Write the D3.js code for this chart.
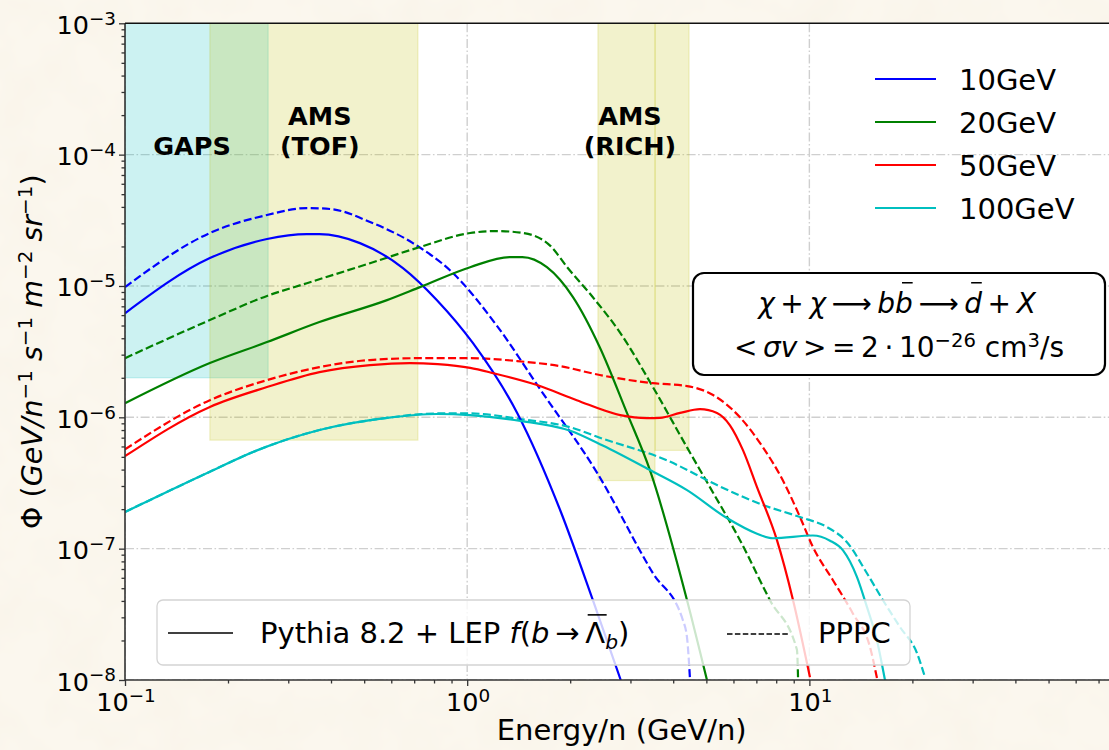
<!DOCTYPE html>
<html>
<head>
<meta charset="utf-8">
<script src="https://cdn.jsdelivr.net/npm/d3@7"></script>
<style>
  html, body { margin: 0; padding: 0; background: #fbf7ee; }
  svg { display: block; }
  text { font-family: "DejaVu Sans", sans-serif; fill: #000; }
</style>
</head>
<body>
<svg id="chart" width="1109" height="750"></svg>
<script>
// ---------------------------------------------------------------
// Antideuteron flux from dark-matter annihilation (chi chi -> b bbar)
// Energies in GeV/n, fluxes in GeV/n^-1 s^-1 m^-2 sr^-1
// ---------------------------------------------------------------
const energyDomain = [0.1, 80];
const fluxDomain = [1e-8, 1e-3];
const energyMajorTicks = [0.1, 1, 10];
const energyTickExponents = ["−1", "0", "1"];
const fluxMajorTicks = [1e-8, 1e-7, 1e-6, 1e-5, 1e-4, 1e-3];
const fluxTickExponents = ["−8", "−7", "−6", "−5", "−4", "−3"];

const massLabels = ["10GeV", "20GeV", "50GeV", "100GeV"];

// Pythia 8.2 + LEP f(b -> Lambda_b) spectra
const pythia10 = [[0.1, 6.2e-6], [0.177, 1.63e-5], [0.26, 2.28e-5], [0.34, 2.48e-5], [0.37, 2.48e-5],
  [0.486, 2.12e-5], [0.649, 1.37e-5], [0.816, 7.8e-6], [1.04, 3.67e-6], [1.4, 1.08e-6],
  [1.87, 1.96e-7], [2.33, 4.05e-8], [2.81, 1.0e-8]];
const pythia20 = [[0.1, 1.28e-6], [0.177, 2.59e-6], [0.26, 3.74e-6], [0.37, 5.31e-6], [0.583, 7.8e-6],
  [0.728, 9.8e-6], [1.02, 1.39e-5], [1.33, 1.66e-5], [1.45, 1.66e-5], [1.71, 1.39e-5],
  [2.04, 8.2e-6], [2.44, 3.42e-6], [2.93, 1.08e-6], [3.42, 3.96e-7], [4.39, 4.05e-8], [5.02, 1.0e-8]];
const pythia50 = [[0.1, 5.06e-7], [0.177, 1.2e-6], [0.26, 1.7e-6], [0.37, 2.21e-6], [0.52, 2.5e-6],
  [0.68, 2.59e-6], [0.82, 2.54e-6], [1.02, 2.38e-6], [1.19, 2.17e-6], [1.6, 1.76e-6],
  [2.09, 1.35e-6], [2.8, 1.04e-6], [3.35, 9.86e-7], [3.66, 9.9e-7], [4.19, 1.08e-6],
  [4.79, 1.155e-6], [5.37, 1.08e-6], [5.86, 8.7e-7], [6.4, 5.6e-7], [7.03, 2.94e-7],
  [8.04, 1.16e-7], [8.96, 4.05e-8], [10.04, 1.05e-8]];
const pythia100 = [[0.1, 1.9e-7], [0.177, 3.85e-7], [0.243, 5.6e-7], [0.37, 8.0e-7], [0.583, 9.9e-7],
  [0.816, 1.06e-6], [1.02, 1.04e-6], [1.43, 9.4e-7], [2.0, 7.9e-7], [2.49, 6.1e-7],
  [3.4, 4.0e-7], [4.39, 2.79e-7], [5.74, 1.71e-7], [7.03, 1.3e-7], [7.83, 1.2e-7],
  [10.24, 1.26e-7], [11.49, 1.15e-7], [12.54, 9.7e-8], [13.77, 6.1e-8], [14.73, 3.6e-8],
  [15.76, 2.0e-8], [16.63, 1.0e-8]];

// PPPC spectra
const pppc10 = [[0.1, 9.8e-6], [0.177, 2.53e-5], [0.26, 3.47e-5], [0.34, 3.92e-5], [0.4, 3.85e-5],
  [0.52, 3.07e-5], [0.694, 2.12e-5], [0.91, 1.25e-5], [1.22, 5.0e-6], [1.63, 1.65e-6],
  [2.4, 3.76e-7], [3.49, 6.5e-8], [4.27, 2.85e-8], [4.39, 2.1e-8], [4.48, 1.0e-8]];
const pppc20 = [[0.1, 2.82e-6], [0.177, 5.5e-6], [0.26, 8.4e-6], [0.34, 1.05e-5], [0.52, 1.49e-5],
  [0.728, 1.98e-5], [1.02, 2.53e-5], [1.22, 2.62e-5], [1.46, 2.53e-5], [1.75, 2.02e-5],
  [1.96, 1.39e-5], [2.33, 8.2e-6], [2.8, 4.4e-6], [3.49, 1.7e-6], [4.39, 5.9e-7],
  [5.12, 2.94e-7], [6.27, 1.16e-7], [7.67, 4.05e-8], [9.2, 1.69e-8], [9.27, 1.0e-8]];
const pppc50 = [[0.1, 5.7e-7], [0.177, 1.35e-6], [0.26, 1.92e-6], [0.37, 2.41e-6], [0.52, 2.73e-6],
  [0.73, 2.82e-6], [1.02, 2.82e-6], [1.4, 2.68e-6], [1.87, 2.45e-6], [2.44, 2.1e-6],
  [3.49, 1.82e-6], [4.39, 1.73e-6], [5.23, 1.48e-6], [6.27, 1.0e-6], [7.32, 5.9e-7],
  [8.37, 3.3e-7], [9.39, 1.74e-7], [10.24, 1.03e-7], [11.72, 5.75e-8], [13.41, 3.2e-8],
  [15.04, 1.78e-8], [15.8, 1.0e-8]];
const pppc100 = [[0.1, 1.9e-7], [0.177, 3.85e-7], [0.243, 5.6e-7], [0.37, 8.0e-7], [0.583, 9.9e-7],
  [0.816, 1.07e-6], [1.02, 1.07e-6], [1.43, 9.7e-7], [2.0, 8.4e-7], [2.44, 7.0e-7],
  [3.84, 4.7e-7], [5.37, 3.05e-7], [7.32, 2.15e-7], [9.39, 1.74e-7], [11.26, 1.46e-7],
  [12.88, 1.12e-7], [14.73, 6.5e-8], [16.41, 4.05e-8], [18.4, 2.53e-8], [20.63, 1.6e-8],
  [21.77, 1.05e-8]];

// Detector sensitivity windows: energy span and lowest reachable flux
const bandEnergyLow = [0.1, 0.177, 2.41, 3.54];
const bandEnergyHigh = [0.262, 0.718, 3.54, 4.45];
const bandFluxFloor = [2.0e-6, 6.7e-7, 3.3e-7, 5.6e-7];
const bandLabels = [["GAPS"], ["AMS", "(TOF)"], ["AMS", "(RICH)"]];

// ---------------------------------------------------------------
// Styles and layout
// ---------------------------------------------------------------
const seriesColors = ["#0000ff", "#008000", "#ff0000", "#00bfbf"];
const bandFills = ["#00bfbf", "#bfbf00", "#bfbf00", "#bfbf00"];
const bandLabelAnchors = [0.157, 0.371, 2.99];

const W = 1109, H = 750;
const plot = { left: 125, top: 23.3, right: 1118.4, bottom: 680 };

const svg = d3.select("#chart");
const defs = svg.append("defs");

// paper-like backdrop
const grain = defs.append("filter").attr("id", "grain")
  .attr("x", 0).attr("y", 0).attr("width", "100%").attr("height", "100%");
grain.append("feTurbulence").attr("type", "fractalNoise")
  .attr("baseFrequency", 0.02).attr("numOctaves", 3).attr("seed", 7);
grain.append("feColorMatrix").attr("type", "matrix")
  .attr("values", "0 0 0 0 0.88  0 0 0 0 0.82  0 0 0 0 0.70  0.4 0 0 0 -0.15");
svg.append("rect").attr("width", W).attr("height", H).attr("fill", "#fbf7ee");
svg.append("rect").attr("width", W).attr("height", H).attr("filter", "url(#grain)");

const x = d3.scaleLog().domain(energyDomain).range([plot.left, plot.right]);
const y = d3.scaleLog().domain(fluxDomain).range([plot.bottom, plot.top]);

defs.append("clipPath").attr("id", "plot-clip").append("rect")
  .attr("x", plot.left).attr("y", plot.top)
  .attr("width", plot.right - plot.left).attr("height", plot.bottom - plot.top);

// plot face
svg.append("rect").attr("x", plot.left).attr("y", plot.top)
  .attr("width", plot.right - plot.left).attr("height", plot.bottom - plot.top)
  .attr("fill", "#fff");

const inner = svg.append("g").attr("clip-path", "url(#plot-clip)");

// grid (dash-dot at decades)
const gridStyle = g => g.attr("stroke", "#cfcfcf").attr("stroke-width", 1.4)
  .attr("stroke-dasharray", "9,2.5,1.6,2.5").attr("fill", "none");
inner.append("g").call(gridStyle).selectAll("line").data(energyMajorTicks).join("line")
  .attr("x1", d => x(d)).attr("x2", d => x(d)).attr("y1", plot.top).attr("y2", plot.bottom);
inner.append("g").call(gridStyle).selectAll("line").data(fluxMajorTicks).join("line")
  .attr("y1", d => y(d)).attr("y2", d => y(d)).attr("x1", plot.left).attr("x2", plot.right);

// detector windows
inner.append("g").selectAll("rect").data(bandEnergyLow).join("rect")
  .attr("x", d => x(d))
  .attr("width", (d, i) => x(bandEnergyHigh[i]) - x(d))
  .attr("y", y(fluxDomain[1]))
  .attr("height", (d, i) => y(bandFluxFloor[i]) - y(fluxDomain[1]))
  .attr("fill", (d, i) => bandFills[i]).attr("fill-opacity", 0.2)
  .attr("stroke", (d, i) => bandFills[i]).attr("stroke-opacity", 0.2).attr("stroke-width", 1.2);

// detector labels
bandLabels.forEach((lines, i) => {
  const cx = x(bandLabelAnchors[i]);
  const base = lines.length === 1 ? 155 : 125;
  lines.forEach((s, k) => {
    svg.append("text").attr("x", cx).attr("y", base + k * 30)
      .attr("text-anchor", "middle").attr("font-size", 25.5).attr("font-weight", "bold")
      .text(s);
  });
});

// spectra
const line = d3.line().x(d => x(d[0])).y(d => y(d[1])).curve(d3.curveMonotoneX);
const solidSeries = [pythia10, pythia20, pythia50, pythia100];
const dashedSeries = [pppc10, pppc20, pppc50, pppc100];
dashedSeries.forEach((s, i) => {
  inner.append("path").datum(s).attr("d", line).attr("fill", "none")
    .attr("stroke", seriesColors[i]).attr("stroke-width", 2.2)
    .attr("stroke-dasharray", "8,3.4");
});
solidSeries.forEach((s, i) => {
  inner.append("path").datum(s).attr("d", line).attr("fill", "none")
    .attr("stroke", seriesColors[i]).attr("stroke-width", 2.2);
});

// ---------------------------------------------------------------
// axes
// ---------------------------------------------------------------
const axisColor = "#333";
const minorX = x.ticks().filter(v => !energyMajorTicks.some(m => Math.abs(m - v) / m < 1e-9));
const minorY = y.ticks().filter(v => !fluxMajorTicks.some(m => Math.abs(m - v) / m < 1e-9));

function styleAxis(g) {
  g.select(".domain").remove();
  g.selectAll("line").attr("stroke", axisColor).attr("stroke-width", 1.3);
  g.selectAll("text").remove();
}
svg.append("g").attr("transform", `translate(0,${plot.bottom})`)
  .call(d3.axisBottom(x).tickValues(energyMajorTicks).tickSize(6).tickFormat(() => "")).call(styleAxis);
svg.append("g").attr("transform", `translate(0,${plot.bottom})`)
  .call(d3.axisBottom(x).tickValues(minorX).tickSize(3.5).tickFormat(() => "")).call(styleAxis);
svg.append("g").attr("transform", `translate(${plot.left},0)`)
  .call(d3.axisLeft(y).tickValues(fluxMajorTicks).tickSize(6).tickFormat(() => "")).call(styleAxis);
svg.append("g").attr("transform", `translate(${plot.left},0)`)
  .call(d3.axisLeft(y).tickValues(minorY).tickSize(3.5).tickFormat(() => "")).call(styleAxis);

// spines
const spine = svg.append("g").attr("stroke", axisColor).attr("stroke-width", 1.6).attr("fill", "none");
spine.append("line").attr("x1", plot.left).attr("x2", plot.left).attr("y1", plot.top).attr("y2", plot.bottom);
spine.append("line").attr("x1", plot.left).attr("x2", plot.right).attr("y1", plot.bottom).attr("y2", plot.bottom);
spine.append("line").attr("x1", plot.left).attr("x2", plot.right).attr("y1", plot.top).attr("y2", plot.top).attr("stroke", "#111");
spine.append("line").attr("x1", plot.right).attr("x2", plot.right).attr("y1", plot.top).attr("y2", plot.bottom);

// ---------------------------------------------------------------
// simple math-style text: italic runs, super/subscripts, overbars
// ---------------------------------------------------------------
function mathText(parent, px, py, parts, opt) {
  const size = opt.size;
  const scriptScale = opt.script || 0.7;
  const t = parent.append("text").attr("x", px).attr("y", py)
    .attr("font-size", size).attr("text-anchor", opt.anchor || "start");
  if (opt.transform) t.attr("transform", opt.transform);
  let shift = 0;
  parts.forEach(p => {
    const ts = t.append("tspan").text(p.t);
    if (p.i) ts.attr("font-style", "italic");
    let target = 0;
    if (p.sup) target = -size * 0.36;
    if (p.sub) target = size * 0.22;
    if (p.sup || p.sub) ts.attr("font-size", size * scriptScale);
    if (target !== shift) { ts.attr("dy", target - shift); shift = target; }
  });
  // overbars: "macron" is a short accent, otherwise the bar spans the glyph
  let idx = 0;
  parts.forEach(p => {
    if (p.bar) {
      const node = t.node();
      const a = node.getExtentOfChar(idx);
      const b = node.getExtentOfChar(idx + p.t.length - 1);
      const lift = p.barLift || 1.1;
      let x1 = a.x + size * 0.08, x2 = b.x + b.width + size * 0.05;
      if (p.bar === "macron") {
        const c = (a.x + b.x + b.width) / 2 + size * 0.12;
        x1 = c - size * 0.19; x2 = c + size * 0.19;
      }
      parent.append("line")
        .attr("x1", x1).attr("x2", x2)
        .attr("y1", py - size * lift).attr("y2", py - size * lift)
        .attr("stroke", "#000").attr("stroke-width", size * 0.055);
    }
    idx += p.t.length;
  });
  return t;
}

// tick labels
fluxMajorTicks.forEach((v, i) => {
  mathText(svg, 116, y(v) + 10.5, [{ t: "10" }, { t: fluxTickExponents[i], sup: true }],
    { size: 25.5, anchor: "end", script: 0.72 });
});
energyMajorTicks.forEach((v, i) => {
  mathText(svg, x(v) + 1, 711, [{ t: "10" }, { t: energyTickExponents[i], sup: true }],
    { size: 25.5, anchor: "middle", script: 0.72 });
});

// axis titles
svg.append("text").attr("x", (plot.left + plot.right) / 2).attr("y", 740)
  .attr("text-anchor", "middle").attr("font-size", 29).text("Energy/n (GeV/n)");
mathText(svg, 0, 0, [
  { t: "Φ " }, { t: "(" }, { t: "GeV/n", i: true }, { t: "−1", sup: true },
  { t: " s", i: true }, { t: "−1", sup: true }, { t: " m", i: true }, { t: "−2", sup: true },
  { t: " sr", i: true }, { t: "−1", sup: true }, { t: ")" }
], { size: 28.5, anchor: "middle", transform: `translate(42,${(plot.top + plot.bottom) / 2}) rotate(-90)` });

// ---------------------------------------------------------------
// mass legend (upper right)
// ---------------------------------------------------------------
const legRows = [79, 122, 165, 208];
massLabels.forEach((lab, i) => {
  svg.append("line").attr("x1", 875).attr("x2", 936).attr("y1", legRows[i]).attr("y2", legRows[i])
    .attr("stroke", seriesColors[i]).attr("stroke-width", 2.2);
  svg.append("text").attr("x", 959).attr("y", legRows[i] + 10.5).attr("font-size", 29).text(lab);
});

// ---------------------------------------------------------------
// process annotation
// ---------------------------------------------------------------
svg.append("rect").attr("x", 693).attr("y", 273).attr("width", 412).attr("height", 102)
  .attr("rx", 11).attr("fill", "#fff").attr("stroke", "#000").attr("stroke-width", 2.2);
const ts = "\u2009";
mathText(svg, 897, 313, [
  { t: "χ", i: true }, { t: ts + "+" + ts }, { t: "χ", i: true }, { t: ts + "⟶" + ts },
  { t: "b", i: true }, { t: "b", i: true, bar: "macron", barLift: 1.08 }, { t: ts + "⟶" + ts },
  { t: "d", i: true, bar: "macron", barLift: 1.08 }, { t: ts + "+" + ts }, { t: "X", i: true }
], { size: 28, anchor: "middle" });
mathText(svg, 899, 357, [
  { t: "<" + ts }, { t: "σv", i: true }, { t: ts + ">" + ts + "=" + ts + "2" + ts + "·" + ts + "10" },
  { t: "−26", sup: true }, { t: " cm" }, { t: "3", sup: true }, { t: "/s" }
], { size: 28, anchor: "middle" });

// ---------------------------------------------------------------
// generator legend (bottom)
// ---------------------------------------------------------------
svg.append("rect").attr("x", 157).attr("y", 600).attr("width", 753).attr("height", 65)
  .attr("rx", 6).attr("fill", "#fff").attr("fill-opacity", 0.8)
  .attr("stroke", "#d4d4d4").attr("stroke-width", 1.3);
svg.append("line").attr("x1", 168).attr("x2", 233).attr("y1", 633).attr("y2", 633)
  .attr("stroke", "#000").attr("stroke-width", 1.6);
mathText(svg, 260, 643, [
  { t: "Pythia 8.2 + LEP " }, { t: "f", i: true }, { t: "(" }, { t: "b", i: true },
  { t: ts + "→" + ts }, { t: "Λ", bar: true, barLift: 0.97 }, { t: "b", i: true, sub: true }, { t: ")" }
], { size: 29 });
svg.append("line").attr("x1", 727).attr("x2", 788).attr("y1", 634).attr("y2", 634)
  .attr("stroke", "#000").attr("stroke-width", 1.6).attr("stroke-dasharray", "5.5,2.4");
svg.append("text").attr("x", 818).attr("y", 643).attr("font-size", 29).text("PPPC");
</script>
</body>
</html>
